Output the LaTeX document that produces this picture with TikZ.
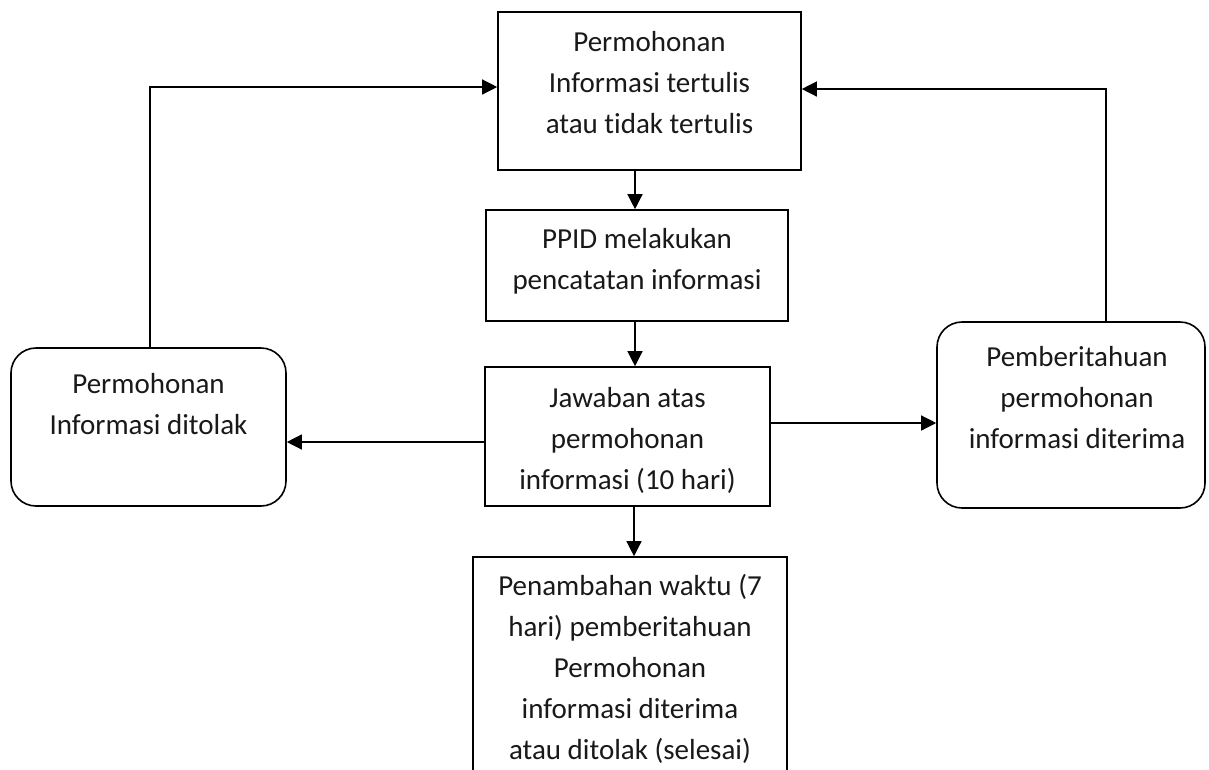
\documentclass[tikz,border=0pt]{standalone}
\usepackage{fontspec}
\setmainfont[Ligatures=NoCommon]{Carlito}
\usetikzlibrary{arrows.meta}
\tikzset{
  box/.style={draw=black, line width=1.6pt, inner sep=0pt, fill=none},
  rbox/.style={box, rounded corners=25pt},
  txt/.style={inner sep=0pt, align=center, font=\fontsize{29}{41}\selectfont, text=black!90},
  conn/.style={line width=1.3pt, draw=black, -{Triangle[length=15pt,width=15pt]}},
  plain/.style={line width=1.3pt, draw=black}
}
\begin{document}
\begin{tikzpicture}[x=1pt,y=-1pt]
\clip (0,0) rectangle (1209,769);
\fill[white] (0,0) rectangle (1209,769);

% boxes
\node[box, minimum width=303pt, minimum height=158pt] (b1) at (649.5,91) {};
\node[box, minimum width=302pt, minimum height=111pt] (b2) at (637,265.5) {};
\node[box, minimum width=285pt, minimum height=139pt] (b3) at (627.5,436.5) {};
\node[box, minimum width=314pt, minimum height=243pt] (b4) at (630,678.5) {};
\node[rbox, minimum width=275pt, minimum height=158pt] (lb) at (148.5,427) {};
\node[rbox, minimum width=268pt, minimum height=186pt] (rb) at (1071,415) {};

% texts
\node[txt] (t1) at (649.5,83) {Permohonan\\Informasi tertulis\\atau tidak tertulis};
\node[txt] (t2) at (637,261) {PPID melakukan\\pencatatan informasi};
\node[txt] (t3) at (627.5,440) {Jawaban atas\\permohonan\\informasi (10 hari)};
\node[txt] (t4) at (630,668.5) {Penambahan waktu (7\\hari) pemberitahuan\\Permohonan\\informasi diterima\\atau ditolak (selesai)};
\node[txt] (tl) at (148.5,404) {Permohonan\\Informasi ditolak};
\node[txt] (tr) at (1077,397.5) {Pemberitahuan\\permohonan\\informasi diterima};

% helper coordinates
\coordinate (vx) at (635,0);
\coordinate (vx4) at (634,0);
\coordinate (yl) at (0,442);
\coordinate (yr) at (0,423);
\coordinate (ytl) at (0,87);
\coordinate (ytr) at (0,89);
\coordinate (xl) at (150,0);
\coordinate (xr) at (1106,0);

% connectors
\draw[conn] (b1.south -| vx) -- (b2.north -| vx);
\draw[conn] (b2.south -| vx) -- (b3.north -| vx);
\draw[conn] (b3.south -| vx4) -- (b4.north -| vx4);
\draw[conn] (b3.west |- yl) -- (lb.east |- yl);
\draw[conn] (b3.east |- yr) -- (rb.west |- yr);
\draw[conn] (lb.north -| xl) |- (b1.west |- ytl);
\draw[conn] (rb.north -| xr) |- (b1.east |- ytr);
\end{tikzpicture}
\end{document}
